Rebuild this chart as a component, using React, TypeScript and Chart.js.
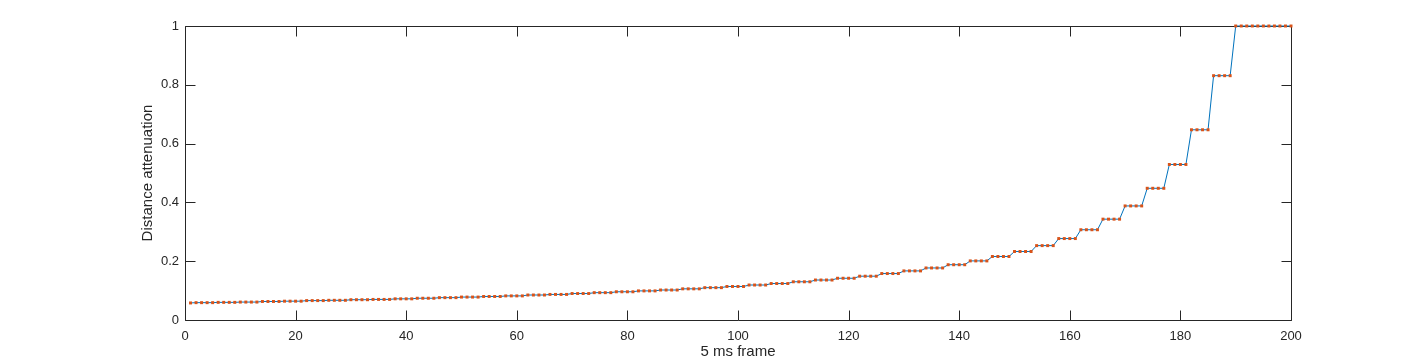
import React, { useEffect, useRef } from "react";
import { Chart, registerables } from "chart.js";

Chart.register(...registerables);

// x tick labels and y tick labels
const xTicks = [0, 20, 40, 60, 80, 100, 120, 140, 160, 180, 200];
const yTicks = [0, 0.2, 0.4, 0.6, 0.8, 1];

// distance attenuation per 5 ms frame (frames 1..200)
const attenuation = [
  0.058,
  0.059, 0.059, 0.059, 0.059,
  0.060, 0.060, 0.060, 0.060,
  0.061, 0.061, 0.061, 0.061,
  0.063, 0.063, 0.063, 0.063,
  0.064, 0.064, 0.064, 0.064,
  0.066, 0.066, 0.066, 0.066,
  0.067, 0.067, 0.067, 0.067,
  0.069, 0.069, 0.069, 0.069,
  0.070, 0.070, 0.070, 0.070,
  0.072, 0.072, 0.072, 0.072,
  0.074, 0.074, 0.074, 0.074,
  0.076, 0.076, 0.076, 0.076,
  0.078, 0.078, 0.078, 0.078,
  0.080, 0.080, 0.080, 0.080,
  0.082, 0.082, 0.082, 0.082,
  0.085, 0.085, 0.085, 0.085,
  0.087, 0.087, 0.087, 0.087,
  0.090, 0.090, 0.090, 0.090,
  0.093, 0.093, 0.093, 0.093,
  0.096, 0.096, 0.096, 0.096,
  0.099, 0.099, 0.099, 0.099,
  0.102, 0.102, 0.102, 0.102,
  0.106, 0.106, 0.106, 0.106,
  0.110, 0.110, 0.110, 0.110,
  0.114, 0.114, 0.114, 0.114,
  0.119, 0.119, 0.119, 0.119,
  0.124, 0.124, 0.124, 0.124,
  0.130, 0.130, 0.130, 0.130,
  0.136, 0.136, 0.136, 0.136,
  0.142, 0.142, 0.142, 0.142,
  0.149, 0.149, 0.149, 0.149,
  0.158, 0.158, 0.158, 0.158,
  0.167, 0.167, 0.167, 0.167,
  0.177, 0.177, 0.177, 0.177,
  0.188, 0.188, 0.188, 0.188,
  0.201, 0.201, 0.201, 0.201,
  0.216, 0.216, 0.216, 0.216,
  0.233, 0.233, 0.233, 0.233,
  0.253, 0.253, 0.253, 0.253,
  0.277, 0.277, 0.277, 0.277,
  0.307, 0.307, 0.307, 0.307,
  0.343, 0.343, 0.343, 0.343,
  0.388, 0.388, 0.388, 0.388,
  0.448, 0.448, 0.448, 0.448,
  0.529, 0.529, 0.529, 0.529,
  0.647, 0.647, 0.647, 0.647,
  0.831, 0.831, 0.831, 0.831,
  1, 1, 1, 1, 1, 1, 1, 1, 1, 1, 1,
];

const frames = attenuation.map((_, i) => i + 1);

const AXIS_COLOR = "#262626";
const FONT = "'Liberation Sans', Arial, Helvetica, sans-serif";
const TICK_LEN = 10;

const snap = (v: number) => Math.round(v) + 0.5;

const boxPlugin = {
  id: "matlabBox",
  beforeDatasetsDraw(chart: any) {
    const { ctx, chartArea, scales } = chart;
    const L = snap(chartArea.left);
    const R = snap(chartArea.right);
    const T = snap(chartArea.top);
    const B = snap(chartArea.bottom);
    ctx.save();
    ctx.strokeStyle = AXIS_COLOR;
    ctx.lineWidth = 1;
    ctx.beginPath();
    ctx.moveTo(L, T);
    ctx.lineTo(R, T);
    ctx.lineTo(R, B);
    ctx.lineTo(L, B);
    ctx.closePath();
    for (const v of xTicks) {
      const px = snap(scales.x.getPixelForValue(v));
      ctx.moveTo(px, B);
      ctx.lineTo(px, B - TICK_LEN);
      ctx.moveTo(px, T);
      ctx.lineTo(px, T + TICK_LEN);
    }
    for (const v of yTicks) {
      const py = snap(scales.y.getPixelForValue(v));
      ctx.moveTo(L, py);
      ctx.lineTo(L + TICK_LEN, py);
      ctx.moveTo(R, py);
      ctx.lineTo(R - TICK_LEN, py);
    }
    ctx.stroke();
    ctx.restore();
  },
};

const bgPlugin = {
  id: "whiteBg",
  beforeDraw(chart: any) {
    const { ctx, width, height } = chart;
    ctx.save();
    ctx.fillStyle = "#ffffff";
    ctx.fillRect(0, 0, width, height);
    ctx.restore();
  },
};

export default function App() {
  const canvasRef = useRef<HTMLCanvasElement | null>(null);

  useEffect(() => {
    if (!canvasRef.current) return;
    const chart = new Chart(canvasRef.current, {
      type: "line",
      data: {
        datasets: [
          {
            data: frames.map((f, i) => ({ x: f, y: attenuation[i] })),
            borderColor: "#0072BD",
            borderWidth: 1,
            tension: 0,
            fill: false,
            clip: false,
            pointStyle: "rect",
            pointRadius: 2.1,
            pointBorderWidth: 0,
            pointBackgroundColor: "#D95319",
            pointHoverRadius: 2.1,
          },
        ],
      },
      options: {
        responsive: false,
        animation: false,
        devicePixelRatio: 1,
        layout: { padding: { left: 0, right: 135, top: 26, bottom: 0 } },
        plugins: {
          legend: { display: false },
          tooltip: { enabled: false },
        },
        scales: {
          x: {
            type: "linear",
            min: 0,
            max: 200,
            grid: { display: false, drawTicks: false },
            border: { display: false },
            afterBuildTicks: (s: any) => {
              s.ticks = xTicks.map((v) => ({ value: v }));
            },
            afterFit: (s: any) => {
              s.height = 44;
            },
            ticks: {
              color: AXIS_COLOR,
              font: { family: FONT, size: 13 },
              padding: 9,
              maxRotation: 0,
              autoSkip: false,
              callback: (v: any) => String(v),
            },
            title: {
              display: true,
              text: "5 ms frame",
              color: AXIS_COLOR,
              font: { family: FONT, size: 15 },
              padding: { top: 0, bottom: 3 },
            },
          },
          y: {
            type: "linear",
            min: 0,
            max: 1,
            grid: { display: false, drawTicks: false },
            border: { display: false },
            afterBuildTicks: (s: any) => {
              s.ticks = yTicks.map((v) => ({ value: v }));
            },
            afterFit: (s: any) => {
              s.width = 185;
            },
            ticks: {
              color: AXIS_COLOR,
              font: { family: FONT, size: 13 },
              padding: 6,
              autoSkip: false,
              callback: (v: any) => String(Math.round(Number(v) * 10) / 10),
            },
            title: {
              display: true,
              text: "Distance attenuation",
              color: AXIS_COLOR,
              font: { family: FONT, size: 15 },
              padding: { top: 139, bottom: 0 },
            },
          },
        },
      },
      plugins: [bgPlugin, boxPlugin],
    });
    return () => chart.destroy();
  }, []);

  return (
    <div
      style={{
        position: "absolute",
        left: 0,
        top: 0,
        width: 1426,
        height: 364,
        background: "#ffffff",
      }}
    >
      <canvas ref={canvasRef} width={1426} height={364} style={{ display: "block" }} />
    </div>
  );
}
